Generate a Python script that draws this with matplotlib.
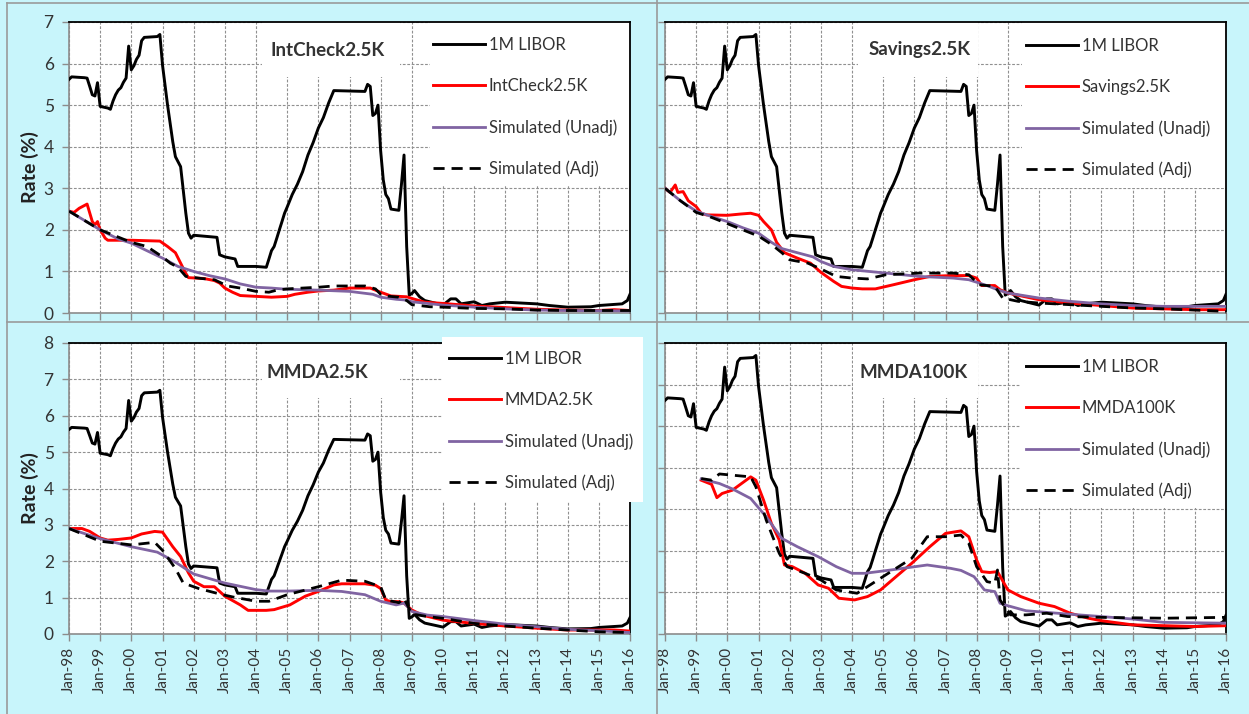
import matplotlib
matplotlib.use("Agg")
import matplotlib.pyplot as plt
import matplotlib.dates as mdates
from matplotlib.patches import Rectangle
from matplotlib.lines import Line2D
import pandas as pd

plt.rcParams['font.family'] = ['Lato', 'DejaVu Sans']
plt.rcParams.update({"legend.handlelength": 3.1, "legend.handletextpad": 0.25,
                     "legend.labelspacing": 1.5, "legend.borderpad": 0.0,
                     "legend.borderaxespad": 0.0, "legend.fontsize": 12,
                     "legend.frameon": False})

# ---------------- data ----------------
libor_dates = ["1998-01","1998-02","1998-07","1998-08","1998-09","1998-10","1998-11","1998-12",
               "1999-01","1999-04","1999-05","1999-06","1999-07","1999-08","1999-09","1999-10","1999-11","1999-12",
               "2000-01","2000-02","2000-03","2000-04","2000-05","2000-06","2000-11","2000-12",
               "2001-01","2001-03","2001-05","2001-06","2001-08","2001-10","2001-11","2001-12",
               "2002-01","2002-10","2002-11","2003-01","2003-05","2003-06","2004-01","2004-05",
               "2004-06","2004-07","2004-08","2004-09","2004-10","2004-11","2004-12",
               "2005-01","2005-03","2005-05","2005-07","2005-09","2005-11","2006-01","2006-03","2006-05","2006-07",
               "2007-07","2007-08","2007-09","2007-10","2007-11","2007-12",
               "2008-01","2008-02","2008-03","2008-04","2008-05","2008-08","2008-09","2008-10","2008-11","2008-12",
               "2009-01","2009-02","2009-04","2009-06","2010-01","2010-04","2010-06","2010-08",
               "2011-01","2011-04","2011-07","2012-01","2013-01","2013-06","2014-01","2014-10",
               "2015-01","2015-10","2015-12","2016-01"]
libor_vals = [5.62,5.68,5.66,5.65,5.45,5.25,5.22,5.54,
              4.97,4.93,4.90,5.10,5.25,5.36,5.42,5.55,5.65,6.42,
              5.85,5.95,6.10,6.20,6.55,6.63,6.65,6.70,
              5.96,5.00,4.12,3.76,3.52,2.40,1.92,1.80,
              1.87,1.82,1.40,1.35,1.30,1.12,1.12,1.10,
              1.30,1.50,1.60,1.80,2.00,2.20,2.40,
              2.55,2.85,3.10,3.40,3.80,4.10,4.45,4.70,5.05,5.35,
              5.33,5.50,5.45,4.75,4.80,5.00,
              3.90,3.20,2.85,2.75,2.50,2.47,3.10,3.80,1.60,0.43,
              0.47,0.54,0.39,0.30,0.19,0.34,0.34,0.22,
              0.27,0.18,0.22,0.26,0.22,0.18,0.14,0.15,
              0.18,0.22,0.30,0.45]

# Panel 1: IntCheck2.5K
ic_dates = ["1998-01","1998-03","1998-05","1998-08","1998-10","1998-11","1998-12","1999-01","1999-03","1999-04",
            "2000-01","2000-12","2001-03","2001-06","2001-08","2001-10","2001-11","2002-05","2002-09","2002-11",
            "2003-01","2003-04","2003-07","2004-01","2004-07","2005-01","2005-04","2005-09","2006-01","2006-07",
            "2007-01","2007-09","2007-11","2008-01","2008-05","2008-11","2009-01","2009-06","2010-01","2011-01",
            "2012-01","2013-01","2014-01","2015-01","2015-07","2016-01"]
ic_vals = [2.45,2.42,2.52,2.62,2.20,2.12,2.20,2.00,1.80,1.75,
           1.75,1.73,1.60,1.45,1.20,0.95,0.85,0.83,0.78,0.72,
           0.60,0.50,0.42,0.40,0.38,0.40,0.45,0.50,0.53,0.55,
           0.60,0.60,0.55,0.50,0.41,0.39,0.35,0.26,0.23,0.17,
           0.13,0.09,0.07,0.06,0.08,0.06]
ic_un_dates = ["1998-01","1999-01","1999-08","2000-01","2000-07","2001-01","2001-07","2002-01","2002-07","2003-01",
               "2003-07","2004-01","2004-07","2005-01","2006-01","2007-01","2007-10","2008-01","2008-07","2008-11",
               "2009-01","2010-01","2011-01","2012-01","2013-01","2014-01","2016-01"]
ic_un_vals = [2.45,2.00,1.78,1.68,1.50,1.32,1.12,1.00,0.90,0.82,
              0.70,0.62,0.60,0.57,0.55,0.52,0.45,0.38,0.33,0.31,
              0.27,0.19,0.14,0.10,0.07,0.06,0.05]
ic_adj_dates = ["1998-01","1999-01","2000-01","2000-07","2001-01","2001-04","2001-07","2001-10","2002-04","2002-09",
                "2003-02","2003-07","2004-01","2004-06","2004-09","2005-01","2005-07","2006-01","2006-07","2007-07",
                "2007-11","2008-01","2008-03","2008-08","2008-11","2009-01","2009-08","2010-01","2011-01","2012-01",
                "2013-01","2014-01","2016-01"]
ic_adj_vals = [2.45,2.00,1.70,1.60,1.35,1.20,1.10,0.88,0.83,0.80,
               0.65,0.60,0.52,0.50,0.55,0.58,0.60,0.62,0.65,0.65,
               0.58,0.45,0.41,0.38,0.30,0.20,0.15,0.14,0.11,0.10,
               0.07,0.06,0.06]

# Panel 2: Savings2.5K
sv_dates = ["1998-01","1998-03","1998-05","1998-06","1998-08","1998-10","1999-01","1999-03","1999-05","2000-01",
            "2000-06","2000-10","2001-01","2001-03","2001-06","2001-08","2001-11","2002-04","2002-09","2003-01",
            "2003-06","2003-09","2004-01","2004-05","2004-10","2005-05","2006-01","2006-07","2007-03","2007-10",
            "2008-01","2008-03","2008-08","2008-10","2009-01","2009-07","2010-01","2011-01","2012-01","2013-01",
            "2014-01","2015-01","2016-01"]
sv_vals = [3.00,2.90,3.08,2.90,2.92,2.70,2.56,2.40,2.36,2.35,
           2.38,2.40,2.35,2.20,2.00,1.70,1.45,1.32,1.20,0.98,
           0.76,0.64,0.60,0.58,0.58,0.68,0.80,0.88,0.90,0.90,
           0.84,0.66,0.66,0.56,0.48,0.40,0.32,0.24,0.18,0.12,
           0.10,0.08,0.08]
sv_un_dates = ["1998-01","1998-07","1999-01","1999-07","2000-01","2000-07","2001-01","2001-06","2001-10","2002-04",
               "2002-10","2003-01","2003-06","2004-01","2005-02","2006-03","2007-04","2007-10","2008-01","2008-05",
               "2008-09","2009-01","2010-01","2011-01","2012-01","2013-01","2014-01","2016-01"]
sv_un_vals = [3.00,2.70,2.45,2.32,2.20,2.05,1.92,1.70,1.55,1.45,
              1.35,1.24,1.12,1.04,0.96,0.88,0.84,0.80,0.74,0.66,
              0.56,0.48,0.36,0.28,0.22,0.18,0.16,0.16]
sv_adj_dates = ["1998-01","1998-07","1999-01","1999-07","2000-01","2000-07","2001-01","2001-06","2001-10","2002-01",
                "2002-08","2003-01","2003-07","2004-01","2004-07","2005-02","2006-03","2007-04","2007-10","2008-02",
                "2008-08","2008-11","2009-05","2010-01","2011-01","2012-01","2013-01","2014-01","2016-01"]
sv_adj_vals = [3.00,2.70,2.42,2.30,2.15,2.00,1.85,1.65,1.45,1.28,
               1.20,1.06,0.88,0.84,0.82,0.92,0.96,0.96,0.92,0.68,
               0.64,0.36,0.28,0.24,0.20,0.16,0.12,0.10,0.04]

# Panel 3: MMDA2.5K
m25_dates = ["1998-01","1998-06","1998-09","1999-01","1999-04","1999-08","2000-01","2000-05","2000-10","2001-01",
             "2001-05","2001-08","2001-11","2002-01","2002-05","2002-09","2003-01","2003-07","2003-10","2004-05",
             "2004-08","2005-02","2005-08","2006-01","2006-07","2006-10","2007-07","2007-11","2008-01","2008-03",
             "2008-05","2008-08","2008-10","2009-01","2009-05","2010-01","2011-01","2012-01","2013-01","2014-01",
             "2015-01","2015-07","2016-01"]
m25_vals = [2.90,2.90,2.82,2.64,2.58,2.60,2.64,2.75,2.82,2.80,
            2.40,2.13,1.68,1.45,1.30,1.30,1.04,0.80,0.65,0.65,
            0.67,0.80,1.04,1.17,1.35,1.38,1.38,1.34,1.25,0.93,
            0.89,0.89,0.85,0.66,0.52,0.38,0.29,0.22,0.16,0.11,
            0.11,0.11,0.08]
m25_un_dates = ["1998-01","1999-01","2000-01","2000-11","2001-05","2002-01","2003-01","2004-01","2004-06","2005-01",
                "2006-01","2006-10","2007-07","2008-01","2008-07","2008-10","2009-01","2009-07","2010-01","2011-01",
                "2012-01","2013-01","2014-01","2015-01","2016-01"]
m25_un_vals = [2.90,2.62,2.40,2.25,2.02,1.65,1.40,1.22,1.18,1.18,
               1.20,1.17,1.08,0.90,0.80,0.85,0.62,0.52,0.48,0.37,
               0.27,0.20,0.13,0.09,0.04]
m25_adj_dates = ["1998-01","1999-01","2000-01","2000-10","2001-01","2001-06","2001-09","2002-03","2002-11","2003-04",
                 "2004-01","2004-06","2005-01","2006-01","2006-10","2007-07","2008-01","2008-03","2008-08","2008-10",
                 "2009-01","2009-07","2010-01","2011-01","2012-01","2013-01","2014-01","2015-01","2016-01"]
m25_adj_vals = [2.90,2.55,2.45,2.52,2.30,1.80,1.40,1.25,1.10,1.02,
                0.90,0.90,1.08,1.30,1.48,1.45,1.30,0.94,0.86,0.98,
                0.55,0.48,0.43,0.29,0.22,0.16,0.11,0.06,0.04]

# Panel 4: MMDA100K
m100_dates = ["1999-03","1999-07","1999-09","1999-11","2000-03","2000-10","2000-12","2001-03","2001-06","2001-09",
              "2001-11","2002-02","2002-07","2002-12","2003-04","2003-08","2004-02","2004-07","2004-12","2005-06",
              "2005-12","2006-07","2007-01","2007-07","2007-10","2008-01","2008-03","2008-06","2008-09","2009-01",
              "2009-06","2010-01","2010-07","2011-01","2011-08","2012-01","2013-01","2014-01","2015-01","2016-01"]
m100_vals = [3.70,3.60,3.28,3.38,3.46,3.78,3.70,3.22,2.66,2.26,
             1.66,1.62,1.46,1.18,1.10,0.86,0.82,0.90,1.06,1.38,
             1.70,2.10,2.42,2.48,2.34,1.78,1.50,1.48,1.50,1.06,
             0.90,0.74,0.66,0.50,0.38,0.32,0.22,0.20,0.18,0.20]
m100_un_dates = ["1999-03","1999-10","2000-03","2000-10","2001-04","2001-10","2002-04","2002-12","2003-07","2004-01",
                 "2004-06","2005-04","2006-06","2007-03","2007-07","2007-12","2008-04","2008-08","2008-10","2009-01",
                 "2009-08","2010-12","2012-01","2013-01","2014-01","2016-01"]
m100_un_vals = [3.73,3.62,3.49,3.26,2.82,2.30,2.10,1.86,1.62,1.46,
                1.46,1.54,1.66,1.58,1.53,1.38,1.06,1.02,0.74,0.68,
                0.56,0.48,0.42,0.36,0.28,0.26]
m100_adj_dates = ["1999-03","1999-07","1999-10","2000-03","2000-10","2000-12","2001-04","2001-09","2001-12","2002-07",
                  "2003-01","2003-07","2004-03","2004-07","2005-03","2005-12","2006-06","2007-01","2007-07","2007-10",
                  "2008-01","2008-05","2008-08","2008-09","2008-10","2009-02","2009-08","2010-04","2010-12","2012-01",
                  "2014-01","2016-01"]
m100_adj_vals = [3.74,3.70,3.85,3.82,3.78,3.54,2.74,1.94,1.62,1.46,
                 1.30,1.06,0.98,1.14,1.46,1.82,2.34,2.34,2.38,2.18,
                 1.62,1.26,1.22,1.54,0.82,0.46,0.46,0.50,0.42,0.40,
                 0.38,0.40]

panel_names = ["IntCheck2.5K", "Savings2.5K", "MMDA2.5K", "MMDA100K"]
legend_labels = ["1M LIBOR", None, "Simulated (Unadj)", "Simulated (Adj)"]
year_ticks = pd.date_range("1998-01-01", "2016-01-01", freq="YS")

# ---------------- layout helpers ----------------
W, H = 1249, 714


def rect_px(x0, y0, x1, y1):
    return [x0 / W, (H - y1) / H, (x1 - x0) / W, (y1 - y0) / H]


def fig_box(x0, y0, x1, y1):
    return (x0 / W, (H - y1) / H), (x1 - x0) / W, (y1 - y0) / H


panels = [
    dict(rect=rect_px(69, 22, 630, 313), ymax=7, ylab=True, xlab=False,
         prod=(ic_dates, ic_vals), un=(ic_un_dates, ic_un_vals), adj=(ic_adj_dates, ic_adj_vals),
         title_xy=(328, 50), tbox=(262, 22, 400, 77), lbox=(430, 22, 630, 186), leg_xy=(433, 37)),
    dict(rect=rect_px(665, 22, 1226, 313), ymax=7, ylab=False, xlab=False,
         prod=(sv_dates, sv_vals), un=(sv_un_dates, sv_un_vals), adj=(sv_adj_dates, sv_adj_vals),
         title_xy=(920, 50), tbox=(858, 22, 978, 77), lbox=(1022, 22, 1226, 188), leg_xy=(1026, 38)),
    dict(rect=rect_px(69, 343, 630, 634), ymax=8, ylab=True, xlab=True,
         prod=(m25_dates, m25_vals), un=(m25_un_dates, m25_un_vals), adj=(m25_adj_dates, m25_adj_vals),
         title_xy=(317, 372), tbox=(262, 343, 400, 398), lbox=(442, 337, 643, 502), leg_xy=(449, 351)),
    dict(rect=rect_px(665, 343, 1226, 634), ymax=7, ylab=False, xlab=True,
         prod=(m100_dates, m100_vals), un=(m100_un_dates, m100_un_vals), adj=(m100_adj_dates, m100_adj_vals),
         title_xy=(914, 372), tbox=(853, 343, 978, 398), lbox=(1020, 343, 1226, 508), leg_xy=(1026, 359)),
]

grey = "#8c8c8c"
fig = plt.figure(figsize=(W / 100, H / 100), dpi=100, facecolor="#c8f5fb")
for i, p in enumerate(panels):
    ax = fig.add_axes(p["rect"])
    ax.set_facecolor("white")
    ax.set_axisbelow(True)
    ax.grid(True, color="#909090", linestyle=(0, (2.5, 1.5)), linewidth=0.8)

    l1, = ax.plot(pd.to_datetime(libor_dates), libor_vals, color="black", lw=2.1, zorder=3)
    l2, = ax.plot(pd.to_datetime(p["prod"][0]), p["prod"][1], color="#ff0000", lw=2.1, zorder=4)
    l3, = ax.plot(pd.to_datetime(p["un"][0]), p["un"][1], color="#8064a2", lw=2.0, zorder=5)
    l4, = ax.plot(pd.to_datetime(p["adj"][0]), p["adj"][1], color="black", lw=2.0,
                  linestyle=(0, (4, 2.5)), zorder=6)

    ax.set_xlim(pd.Timestamp("1998-01-01"), pd.Timestamp("2016-01-01"))
    ax.set_ylim(0, p["ymax"])
    ax.set_yticks(range(0, p["ymax"] + 1))
    ax.set_xticks(year_ticks)
    ax.xaxis.set_major_formatter(mdates.DateFormatter("%b-%y"))
    ax.tick_params(axis="both", colors=grey, length=5, width=1, labelcolor="#333333")
    ax.tick_params(axis="y", labelsize=12.5, pad=6)
    ax.tick_params(axis="x", labelsize=11, labelrotation=90, pad=4)
    if not p["xlab"]:
        ax.tick_params(axis="x", labelbottom=False)
    if not p["ylab"]:
        ax.tick_params(axis="y", labelleft=False)
    else:
        ax.set_ylabel("Rate (%)", fontsize=14, fontweight="bold", color="#222222", labelpad=3)

    for s in ("left", "bottom"):
        ax.spines[s].set_color(grey)
        ax.spines[s].set_linewidth(1.2)
    for s in ("top", "right"):
        ax.spines[s].set_color("black")
        ax.spines[s].set_linewidth(1.3)

    # white box behind the panel title
    (bx, by), bw, bh = fig_box(*p["tbox"])
    ax.add_patch(Rectangle((bx, by), bw, bh, transform=fig.transFigure, facecolor="white",
                           edgecolor="none", zorder=2.2, clip_on=False))
    ax.text(p["title_xy"][0] / W, 1 - p["title_xy"][1] / H, panel_names[i], transform=fig.transFigure,
            ha="center", va="center", fontsize=13.5, fontweight="bold", color="#333333", zorder=7)

    handles = [l1, l2, l3, l4]
    labels = [legend_labels[0], panel_names[i], legend_labels[2], legend_labels[3]]
    (bx, by), bw, bh = fig_box(*p["lbox"])
    anchor = (p["leg_xy"][0] / W, 1 - p["leg_xy"][1] / H)
    if i == 2:
        # this legend box spills over the plot frame
        fig.patches.append(Rectangle((bx, by), bw, bh, transform=fig.transFigure, facecolor="white",
                                     edgecolor="none", zorder=1))
        leg = fig.legend(handles, labels, loc="upper left", bbox_to_anchor=anchor,
                         bbox_transform=fig.transFigure, labelcolor="#333333")
    else:
        ax.add_patch(Rectangle((bx, by), bw, bh, transform=fig.transFigure, facecolor="white",
                               edgecolor="none", zorder=2.2, clip_on=False))
        leg = ax.legend(handles, labels, loc="upper left", bbox_to_anchor=anchor,
                        bbox_transform=fig.transFigure, labelcolor="#333333")
    leg.set_zorder(8)

# panel separators / frame
sep = "#9a9a9a"
fig.add_artist(Line2D([657 / W, 657 / W], [0, 1], color=sep, lw=1.2, transform=fig.transFigure))
fig.add_artist(Line2D([7 / W, 1], [1 - 322 / H, 1 - 322 / H], color=sep, lw=1.2, transform=fig.transFigure))
fig.add_artist(Line2D([7 / W, 7 / W], [0, 1 - 3 / H], color=sep, lw=1.2, transform=fig.transFigure))
fig.add_artist(Line2D([7 / W, 1], [1 - 3 / H, 1 - 3 / H], color=sep, lw=1.2, transform=fig.transFigure))

fig.savefig("out.png", dpi=100, facecolor=fig.get_facecolor())
